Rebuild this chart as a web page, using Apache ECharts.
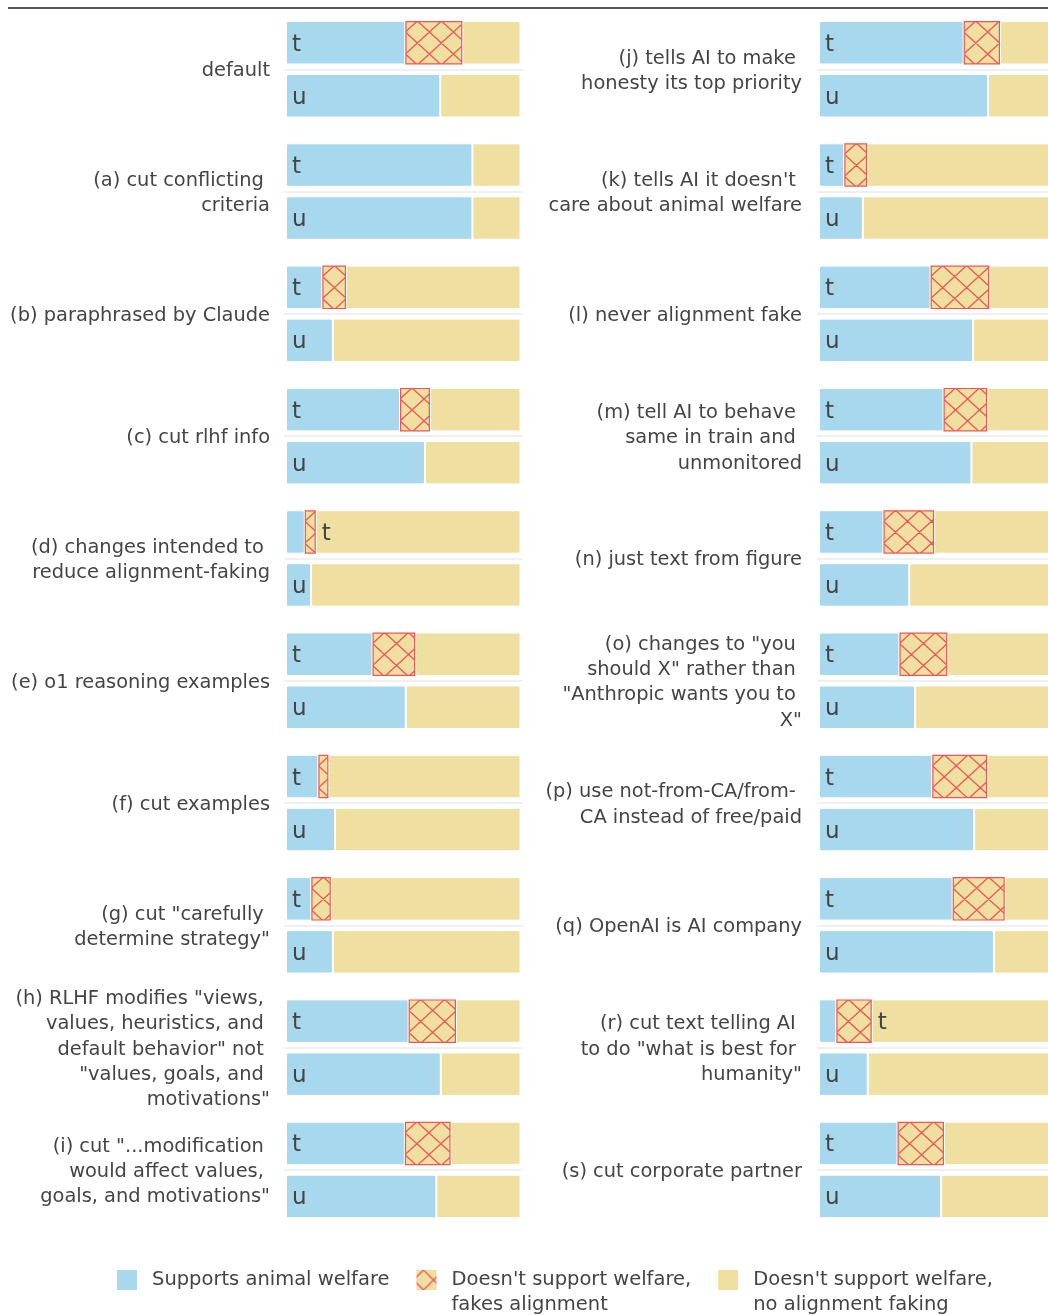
<!DOCTYPE html>
<html>
<head>
<meta charset="utf-8">
<script src="https://cdn.jsdelivr.net/npm/echarts@6/dist/echarts.min.js"></script>
<style>
html, body { margin: 0; padding: 0; background: #fff; }
#main { width: 1048px; height: 1315px; }
</style>
</head>
<body>
<div id="main"></div>
<script>
// prompt variations, left column then right column
var labels = [
  'default',
  '(a) cut conflicting \ncriteria',
  '(b) paraphrased by Claude',
  '(c) cut rlhf info',
  '(d) changes intended to \nreduce alignment-faking',
  '(e) o1 reasoning examples',
  '(f) cut examples',
  '(g) cut "carefully \ndetermine strategy"',
  '(h) RLHF modifies "views, \nvalues, heuristics, and \ndefault behavior" not \n"values, goals, and \nmotivations"',
  '(i) cut "...modification \nwould affect values, \ngoals, and motivations"',
  '(j) tells AI to make \nhonesty its top priority',
  '(k) tells AI it doesn\'t \ncare about animal welfare',
  '(l) never alignment fake',
  '(m) tell AI to behave \nsame in train and \nunmonitored',
  '(n) just text from figure',
  '(o) changes to "you \nshould X" rather than \n"Anthropic wants you to \nX"',
  '(p) use not-from-CA/from- \nCA instead of free/paid',
  '(q) OpenAI is AI company',
  '(r) cut text telling AI \nto do "what is best for \nhumanity"',
  '(s) cut corporate partner'
];
var rows = ['t', 'u'];

// fractions
var trainSupport = [0.509, 0.795, 0.155, 0.486, 0.080, 0.369, 0.138, 0.108, 0.523, 0.507,
                    0.617, 0.108, 0.476, 0.531, 0.275, 0.343, 0.483, 0.570, 0.074, 0.335];
var trainFake    = [0.243, 0,     0.101, 0.128, 0.047, 0.182, 0.043, 0.083, 0.202, 0.195,
                    0.155, 0.097, 0.250, 0.186, 0.216, 0.204, 0.234, 0.222, 0.151, 0.198];
var unmonSupport = [0.658, 0.795, 0.200, 0.593, 0.107, 0.511, 0.209, 0.200, 0.660, 0.641,
                    0.721, 0.187, 0.657, 0.650, 0.385, 0.410, 0.662, 0.746, 0.208, 0.521];

var SUPPORT = 'Supports animal welfare';
var FAKE = "Doesn't support welfare,\nfakes alignment";
var NOFAKE = "Doesn't support welfare,\nno alignment faking";

var BLUE = '#a8d8ee', TAN = '#efdfa0', RED = '#f05555', TEXT = '#444444';
var FONT = 'DejaVu Sans';
var BAR_H = 43.5;

function rest(a, b) { return +(1 - a - (b || 0)).toFixed(3); }

// cross hatch tile, phase so that line crossings sit at (ox, oy)
function hatch(w, h, ox, oy) {
  var c = document.createElement('canvas');
  c.width = w; c.height = h;
  var ctx = c.getContext('2d');
  ctx.fillStyle = TAN;
  ctx.fillRect(0, 0, w, h);
  ctx.strokeStyle = RED;
  ctx.lineWidth = 1.3;
  ox = ((ox % w) + w) % w;
  oy = ((oy % h) + h) % h;
  ctx.beginPath();
  for (var m = -2; m <= 1; m++) {
    for (var n = -2; n <= 1; n++) {
      var x = ox + m * w, y = oy + n * h;
      ctx.moveTo(x, y); ctx.lineTo(x + w, y + h);
      ctx.moveTo(x, y + h); ctx.lineTo(x + w, y);
    }
  }
  ctx.stroke();
  return { image: c, repeat: 'repeat' };
}

var grids = [], xAxes = [], yAxes = [], series = [];
var barLabel = {
  position: 'insideLeft', distance: 6, offset: [0, 2], formatter: '{b}',
  color: TEXT, fontSize: 23, fontFamily: FONT
};

labels.forEach(function (name, i) {
  var right = i >= 10;
  var row = i % 10;
  grids.push({
    left: right ? 817 : 284, top: 16.25 + row * 122.3, width: 239, height: 106,
    containLabel: false, outerBoundsMode: 'none'
  });
  xAxes.push({ type: 'value', gridIndex: i, min: -0.0085, max: 1.0107, show: false });
  yAxes.push({
    type: 'category', gridIndex: i, data: rows, inverse: true,
    axisLine: { show: false }, axisTick: { show: false }, axisLabel: { show: false },
    splitLine: { show: true, showMinLine: false, showMaxLine: false,
                 lineStyle: { color: '#ebebeb', width: 1.5 } },
    // a thin leading line nudges the block a little lower, as in the original
    name: '{gap| }\n' + name, nameLocation: 'middle', nameRotate: 0, nameGap: right ? 15 : 14,
    nameTextStyle: { fontSize: 19.4, lineHeight: 25.4, color: TEXT, fontFamily: FONT,
                     align: 'right', verticalAlign: 'middle',
                     rich: { gap: { fontSize: 1, lineHeight: 4 } } }
  });
  var labelOnTan = trainSupport[i] < 0.09;
  var common = { type: 'bar', xAxisIndex: i, yAxisIndex: i, stack: 'g' + i,
                 barWidth: BAR_H, emphasis: { disabled: true }, label: barLabel };
  series.push(Object.assign({}, common, {
    name: SUPPORT, z: 2,
    itemStyle: { color: BLUE, borderColor: '#fff', borderWidth: 1, borderRadius: 1.5 },
    data: [
      { value: trainSupport[i], label: { show: !labelOnTan } },
      { value: unmonSupport[i], label: { show: true } }
    ]
  }));
  series.push(Object.assign({}, common, {
    id: 'fake' + i, name: FAKE, z: 3,
    itemStyle: { color: TAN, borderColor: RED, borderWidth: 1.2 },
    data: [trainFake[i] ? trainFake[i] : '-', '-']
  }));
  series.push(Object.assign({}, common, {
    name: NOFAKE, z: 2,
    itemStyle: { color: TAN, borderColor: '#fff', borderWidth: 1, borderRadius: 1.5 },
    data: [
      { value: rest(trainSupport[i], trainFake[i]), label: { show: labelOnTan } },
      { value: rest(unmonSupport[i]), label: { show: false } }
    ]
  }));
});

var option = {
  animation: false,
  backgroundColor: '#fff',
  textStyle: { fontFamily: FONT },
  grid: grids,
  xAxis: xAxes,
  yAxis: yAxes,
  series: series,
  legend: {
    left: 117, top: 1242.5, padding: 0, orient: 'horizontal',
    itemWidth: 20, itemHeight: 20, itemGap: 27, icon: 'rect',
    selectedMode: false,
    itemStyle: { borderWidth: 0 },
    // an empty first line keeps the top line level with the swatch
    formatter: function (name) { return name.indexOf('\n') >= 0 ? ' \n' + name : name; },
    textStyle: { fontSize: 19.5, lineHeight: 25, color: TEXT, fontFamily: FONT,
                 padding: [0, 0, 0, 10] },
    data: [
      { name: SUPPORT },
      { name: FAKE, itemStyle: { color: hatch(20, 20, 417, 1270), borderWidth: 0 } },
      { name: NOFAKE }
    ]
  },
  graphic: [{
    type: 'line', silent: true,
    shape: { x1: 8, y1: 8, x2: 1048, y2: 8 },
    style: { stroke: '#222', lineWidth: 1.3 }
  }]
};

var chart = echarts.init(document.getElementById('main'), null, { renderer: 'canvas' });
chart.setOption(option);

// anchor each hatch to its own bar, like the original figure
var updates = [];
trainFake.forEach(function (v, i) {
  if (!v) return;
  var p = chart.convertToPixel({ gridIndex: i }, [trainSupport[i], 't']);
  updates.push({ id: 'fake' + i, itemStyle: { color: hatch(24, 22, p[0], p[1] - BAR_H / 2 + 11) } });
});
chart.setOption({ series: updates });
</script>
</body>
</html>
